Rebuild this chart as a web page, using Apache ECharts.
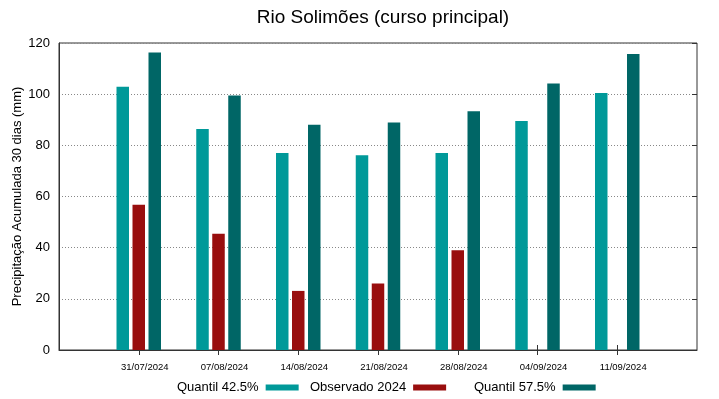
<!DOCTYPE html>
<html>
<head>
<meta charset="utf-8">
<script src="https://cdn.jsdelivr.net/npm/echarts@6/dist/echarts.min.js"></script>
<style>
  html, body { margin: 0; padding: 0; background: #fff; }
  #chart { width: 719px; height: 399px; }
</style>
</head>
<body>
<div id="chart"></div>
<script>
// categories (empty slots at both ends so the dates sit one step inside the frame)
const dates = ['', '31/07/2024', '07/08/2024', '14/08/2024', '21/08/2024', '28/08/2024', '04/09/2024', '11/09/2024', '']
const quantil425 = [null, 102.9, 86.4, 77.0, 76.1, 77.0, 89.5, 100.5, null]
const observado = [null, 56.8, 45.4, 23.1, 26.0, 39.0, null, null, null]
const quantil575 = [null, 116.3, 99.5, 88.0, 88.9, 93.3, 104.2, 115.7, null]
const yTicks = [0, 20, 40, 60, 80, 100, 120]

const font = 'Liberation Sans, Arial, sans-serif'
const inner = (i) => i > 0 && i < dates.length - 1

let chart = echarts.init(document.getElementById('chart'))

function legendAt(left, name) {
  return {
    data: [name],
    left: left,
    top: 381,
    align: 'right',
    icon: 'rect',
    itemWidth: 33,
    itemHeight: 6,
    padding: 0,
    textStyle: { fontFamily: font, fontSize: 13, color: '#000', padding: [0, 2, 0, 0] },
    selectedMode: false,
  }
}

let option = {
  animation: false,
  title: {
    text: 'Rio Solimões (curso principal)',
    left: 378,
    textAlign: 'center',
    top: 3,
    textStyle: { fontFamily: font, fontSize: 19, fontWeight: 'normal', color: '#000' },
  },
  legend: [
    legendAt(177, 'Quantil 42.5%'),
    legendAt(310, 'Observado 2024'),
    legendAt(474, 'Quantil 57.5%'),
  ],
  grid: {
    left: 59,
    right: 22,
    top: 43,
    bottom: 49,
    outerBoundsMode: 'none',
    show: true,
    borderColor: '#333',
    borderWidth: 1,
  },
  xAxis: [
    {
      type: 'category',
      data: dates,
      boundaryGap: false,
      axisLine: { lineStyle: { color: '#333' } },
      axisTick: { inside: true, length: 5, interval: inner, lineStyle: { color: '#333' } },
      axisLabel: {
        interval: 0,
        fontFamily: font,
        fontSize: 9.5,
        color: '#000',
        margin: 12,
        padding: [0, 0, 0, 12],
      },
      splitLine: { show: false },
    },
    {
      type: 'category',
      data: dates,
      boundaryGap: false,
      position: 'top',
      axisLine: { show: false },
      axisTick: { inside: true, length: 5, interval: inner, lineStyle: { color: '#333' } },
      axisLabel: { show: false },
    },
  ],
  yAxis: [
    {
      type: 'value',
      min: yTicks[0],
      max: yTicks[yTicks.length - 1],
      interval: 20,
      name: 'Precipitação Acumulada 30 dias (mm)',
      nameLocation: 'middle',
      nameGap: 35,
      nameMoveOverlap: false,
      nameTextStyle: { fontFamily: font, fontSize: 13, color: '#000' },
      axisLine: { show: true, lineStyle: { color: '#333' } },
      axisTick: { show: false },
      axisLabel: { fontFamily: font, fontSize: 13, color: '#000', margin: 9 },
      splitLine: { lineStyle: { color: '#888', type: [1, 2], width: 1 } },
    },
    {
      type: 'value',
      min: yTicks[0],
      max: yTicks[yTicks.length - 1],
      interval: 20,
      position: 'right',
      axisLine: { show: false },
      axisTick: { show: true, inside: true, length: 5, lineStyle: { color: '#333' } },
      axisLabel: { show: false },
      splitLine: { show: false },
    },
  ],
  series: [
    {
      name: 'Quantil 42.5%',
      type: 'bar',
      data: quantil425,
      barWidth: 12.5,
      barGap: '28%',
      itemStyle: { color: '#009999' },
    },
    {
      name: 'Observado 2024',
      type: 'bar',
      data: observado,
      barWidth: 12.5,
      barGap: '28%',
      itemStyle: { color: '#990e0e' },
    },
    {
      name: 'Quantil 57.5%',
      type: 'bar',
      data: quantil575,
      barWidth: 12.5,
      barGap: '28%',
      itemStyle: { color: '#006666' },
    },
  ],
}

chart.setOption(option)
window.addEventListener('resize', function () {
  chart.resize()
})
</script>
</body>
</html>
